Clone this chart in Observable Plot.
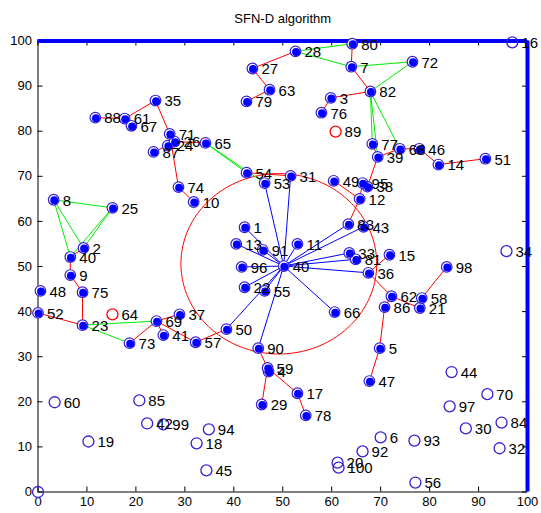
<!DOCTYPE html>
<html>
<head>
<meta charset="utf-8">
<script src="https://cdn.jsdelivr.net/npm/d3@7"></script>
<script src="https://cdn.jsdelivr.net/npm/@observablehq/plot@0.6"></script>
<style>
  html, body { margin: 0; padding: 0; background: #fff; }
  #chart svg { display: block; }
</style>
</head>
<body>
<div id="chart"></div>
<script>
// ---- data ----
const titleText = "SFN-D algorithm";
const xTicks = [0, 10, 20, 30, 40, 50, 60, 70, 80, 90, 100];
const yTicks = [0, 10, 20, 30, 40, 50, 60, 70, 80, 90, 100];

// node labels, positions and kind (f = active/filled, h = hollow blue, r = hollow red)
const nodeLabel = ["","1","2","3","4","5","6","7","8","9","10","11","12","13","14","15","16","17","18","19","20",
  "21","22","23","24","25","26","27","28","29","30","31","32","33","34","35","36","37","38","39","40",
  "41","42","43","44","45","46","47","48","49","50","51","52","53","54","55","56","57","58","59","60",
  "61","62","63","64","65","66","67","68","69","70","71","72","73","74","75","76","77","78","79","80",
  "81","82","83","84","85","86","87","88","89","90","91","92","93","94","95","96","97","98","99","100","40"];
const nodeX = [0,42.2,9.3,59.8,47.1,69.8,70.0,64.0,3.2,6.6,31.8,53.0,65.7,40.5,81.8,71.8,96.9,53.0,32.4,10.3,61.2,
  78.0,42.2,9.1,26.5,15.2,27.9,43.8,52.6,45.7,87.4,51.6,94.3,63.6,95.7,24.0,67.5,28.9,67.3,69.4,6.6,
  25.6,22.3,66.5,84.5,34.4,77.9,67.7,0.5,60.4,38.5,91.4,0,46.3,42.6,46.3,77.1,32.2,78.4,46.9,3.4,
  17.7,72.2,47.3,15.2,34.2,60.6,19.1,73.9,24.2,91.8,26.9,76.5,18.7,28.7,9.1,57.9,68.3,54.7,42.6,64.2,
  64.9,67.9,63.4,94.7,20.7,70.8,23.6,11.7,60.8,45.0,45.9,66.3,76.9,34.9,66.3,41.6,84.1,83.5,25.6,61.4,50.2];
const nodeY = [0,58.7,54.1,87.4,26.7,31.9,12.1,94.3,64.8,48.1,64.3,55.0,65.0,55.0,72.6,52.6,99.7,21.9,10.8,11.2,6.5,
  40.8,45.4,37.0,76.8,63.0,77.7,93.9,97.7,19.4,14.1,70.1,9.7,53.0,53.4,86.8,48.6,39.4,67.7,74.3,52.1,
  34.8,15.2,58.8,26.6,4.8,76.1,24.6,44.6,69.0,36.1,73.9,39.7,68.5,70.8,44.6,2.1,33.2,43.0,27.5,19.9,
  82.8,43.4,89.2,39.4,77.4,39.9,81.2,76.1,37.9,21.7,79.4,95.4,33.0,67.6,44.3,84.1,77.2,17.0,86.6,99.4,
  51.6,88.8,59.4,15.4,20.3,41.0,75.4,83.0,79.9,31.9,53.7,9.0,11.4,13.9,68.5,49.9,19.0,49.9,15.0,5.4,50.1];
const nodeKind = ["h","f","f","f","f","f","h","f","f","f","f","f","f","f","f","f","h","f","h","h","h",
  "f","f","f","f","f","f","f","f","f","h","f","h","f","h","f","f","f","f","f","f",
  "f","h","f","h","h","f","f","f","f","f","f","f","f","f","f","h","f","f","f","h",
  "f","f","f","r","f","f","f","f","f","h","f","f","f","f","f","f","f","f","f","f",
  "f","f","f","h","h","f","f","f","r","f","f","h","h","h","f","f","h","f","h","h","f"];

// links: [from index, to index, colour group]
const edgeFrom = [88,61,61,35,71,87,24,26,54,49,12,38,12,39,39,68,46,14,82,7,28,27,63,82,3,36,36,62,21,58,62,86,5,
  2,40,9,75,52,73,69,69,69,57,90,59,59,17,74,
  65,65,8,8,8,25,25,23,23,82,82,82,82,7,80,28,
  101,101,101,101,101,101,101,101,101,101,101,101,101,101,101,101,101];
const edgeTo = [61,35,67,71,74,24,26,65,31,12,95,39,83,77,68,46,14,51,7,80,27,63,79,3,76,15,62,21,58,98,86,5,47,
  40,9,75,23,23,69,41,37,57,50,59,29,17,78,10,
  54,53,25,2,40,2,40,69,73,77,39,68,72,72,28,7,
  53,31,1,13,91,11,96,22,55,66,83,43,33,81,36,90,50];
const edgeGroup = [..."r".repeat(48), ..."g".repeat(16), ..."b".repeat(17)];

const circleCenter = [49.2, 50.6];
const circleRadius = 20.0;

// ---- build tables ----
const nodes = nodeLabel.map((label, i) => ({label, x: nodeX[i], y: nodeY[i], kind: nodeKind[i]}));
const edgeColor = {r: "#ff0000", g: "#00ee00", b: "#0000ff"};
const edges = edgeFrom.map((a, i) => ({x1: nodeX[a], y1: nodeY[a], x2: nodeX[edgeTo[i]], y2: nodeY[edgeTo[i]], c: edgeColor[edgeGroup[i]]}));
const circlePts = d3.range(0, 361, 2).map(a => ({
  x: circleCenter[0] + circleRadius * Math.cos(a * Math.PI / 180),
  y: circleCenter[1] + circleRadius * Math.sin(a * Math.PI / 180)
}));

const W = 541, H = 513;
const mL = 37.5, mR = 14, mT = 40.5, mB = 21.5;
const plotW = W - mL - mR, plotH = H - mT - mB;
const font = "'Liberation Sans', Arial, Helvetica, sans-serif";
const ringColor = "#3a1fd2";

const chart = Plot.plot({
  width: W,
  height: H,
  marginLeft: mL, marginRight: mR, marginTop: mT, marginBottom: mB,
  style: {fontFamily: font, fontSize: "13px", background: "#fff", color: "#000"},
  x: {domain: [0, 100]},
  y: {domain: [0, 100]},
  marks: [
    Plot.axisX(xTicks, {tickSize: 0, tickPadding: 5, fontSize: 13, label: null}),
    Plot.axisY(yTicks, {tickSize: 0, tickPadding: 6, fontSize: 13, label: null}),
    // inward tick marks (box on)
    Plot.tickX(xTicks, {x: d => d, stroke: "#000", insetTop: plotH - 5}),
    Plot.tickX(xTicks, {x: d => d, stroke: "#000", insetBottom: plotH - 5}),
    Plot.tickY(yTicks, {y: d => d, stroke: "#000", insetRight: plotW - 5}),
    Plot.tickY(yTicks, {y: d => d, stroke: "#000", insetLeft: plotW - 5}),
    Plot.ruleX([0], {stroke: "#000"}),
    Plot.ruleY([0], {stroke: "#000"}),
    // range circle
    Plot.line(circlePts, {x: "x", y: "y", stroke: "#ff0000", strokeWidth: 1, curve: "linear"}),
    // links
    Plot.link(edges, {x1: "x1", y1: "y1", x2: "x2", y2: "y2", stroke: "c", strokeWidth: 1}),
    // thick blue top/right border
    Plot.ruleY([100], {stroke: "#0000ff", strokeWidth: 4, x1: 0, x2: 100}),
    Plot.ruleX([100], {stroke: "#0000ff", strokeWidth: 4, y1: 0, y2: 100}),
    // node markers
    Plot.dot(nodes.filter(d => d.kind === "f"), {x: "x", y: "y", r: 5.3, stroke: ringColor, strokeWidth: 1.2, fill: "#fff"}),
    Plot.dot(nodes.filter(d => d.kind === "f"), {x: "x", y: "y", r: 4, fill: "#0000ff", dx: 0.6, dy: 0.6}),
    Plot.dot(nodes.filter(d => d.kind === "h"), {x: "x", y: "y", r: 5.5, stroke: ringColor, strokeWidth: 1.3, fill: "none"}),
    Plot.dot(nodes.filter(d => d.kind === "r"), {x: "x", y: "y", r: 5.5, stroke: "#ff0000", strokeWidth: 1.3, fill: "none"}),
    // node labels
    Plot.text(nodes, {x: "x", y: "y", text: "label", dx: 9, dy: 1, textAnchor: "start", fontSize: 15, fill: "#000", fontFamily: font}),
    // title
    Plot.text([titleText], {frameAnchor: "top", dy: -27, fontSize: 13, fill: "#000", fontFamily: font})
  ]
});
document.getElementById("chart").appendChild(chart);
</script>
</body>
</html>
